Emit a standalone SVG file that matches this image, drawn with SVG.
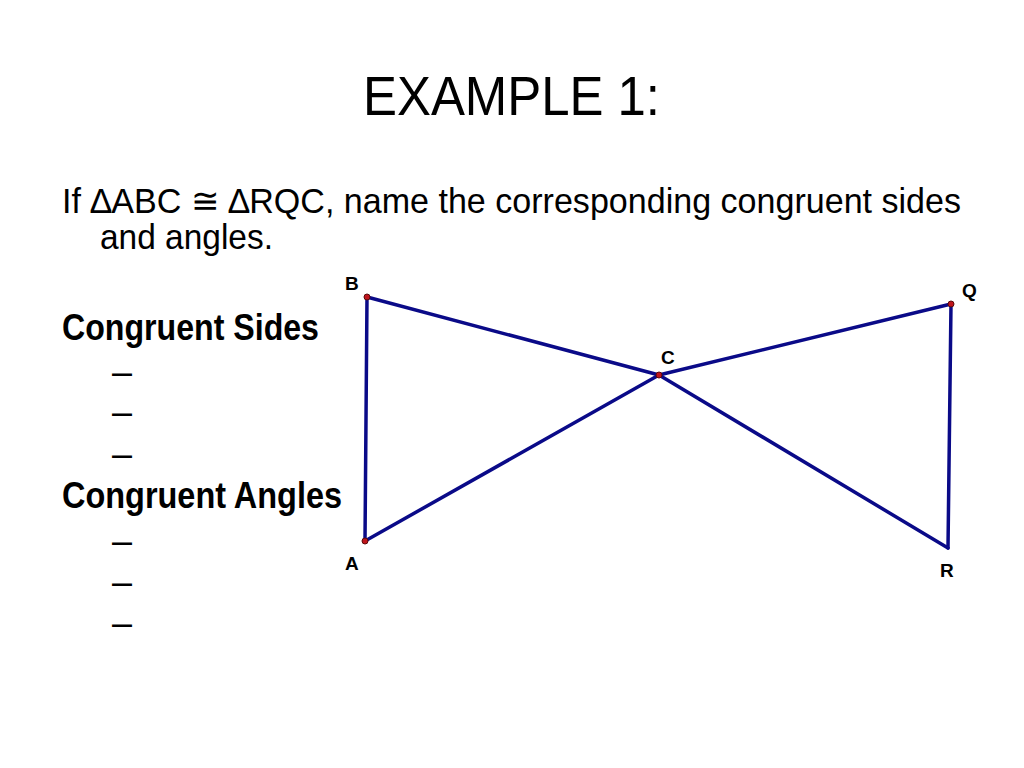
<svg xmlns="http://www.w3.org/2000/svg" width="1024" height="768" viewBox="0 0 1024 768">
<style>
.t{font-family:"Liberation Sans",Arial,sans-serif;fill:#000}
.b{font-weight:bold}
.lbl{font-family:"Liberation Sans",Arial,sans-serif;font-weight:bold;font-size:19px;fill:#000}
.seg{stroke:#0a0a88;stroke-width:3.5;fill:none;stroke-linecap:round}
.pt{fill:#c0141c;stroke:#5a0a0a;stroke-width:1}
</style>
<rect width="1024" height="768" fill="#fff"/>
<g id="title"><text class="t" x="363" y="115" font-size="56" textLength="297" lengthAdjust="spacingAndGlyphs">EXAMPLE 1:</text></g>
<g id="question">
<text class="t" x="62" y="213" font-size="35" textLength="899" lengthAdjust="spacingAndGlyphs">If ∆ABC ≅ ∆RQC, name the corresponding congruent sides</text>
<text class="t" x="100" y="249" font-size="35" textLength="173" lengthAdjust="spacingAndGlyphs">and angles.</text>
</g>
<g id="sides">
<text class="t b" x="62" y="340" font-size="36" textLength="257" lengthAdjust="spacingAndGlyphs">Congruent Sides</text>
<text class="t" x="112" y="384" font-size="36">–</text>
<text class="t" x="112" y="424" font-size="36">–</text>
<text class="t" x="112" y="466" font-size="36">–</text>
</g>
<g id="angles">
<text class="t b" x="62" y="508" font-size="36" textLength="280" lengthAdjust="spacingAndGlyphs">Congruent Angles</text>
<text class="t" x="112" y="553" font-size="36">–</text>
<text class="t" x="112" y="594" font-size="36">–</text>
<text class="t" x="112" y="635" font-size="36">–</text>
</g>
<g id="connectors">
<line class="seg" x1="367" y1="297" x2="365" y2="541"/>
<line class="seg" x1="367" y1="297" x2="659" y2="375"/>
<line class="seg" x1="365" y1="541" x2="659" y2="375"/>
<line class="seg" x1="659" y1="375" x2="951" y2="304"/>
<line class="seg" x1="659" y1="375" x2="948" y2="548"/>
<line class="seg" x1="951" y1="304" x2="948" y2="548"/>
</g>
<g id="B"><circle class="pt" cx="367" cy="297" r="3"/><text class="lbl" x="345" y="290">B</text></g>
<g id="Q"><circle class="pt" cx="951" cy="304" r="3"/><text class="lbl" x="962" y="297">Q</text></g>
<g id="C"><circle class="pt" cx="659" cy="375" r="3"/><text class="lbl" x="661" y="364">C</text></g>
<g id="A"><circle class="pt" cx="365" cy="541" r="3"/><text class="lbl" x="345" y="570">A</text></g>
<g id="R"><text class="lbl" x="940" y="577">R</text></g>
</svg>
